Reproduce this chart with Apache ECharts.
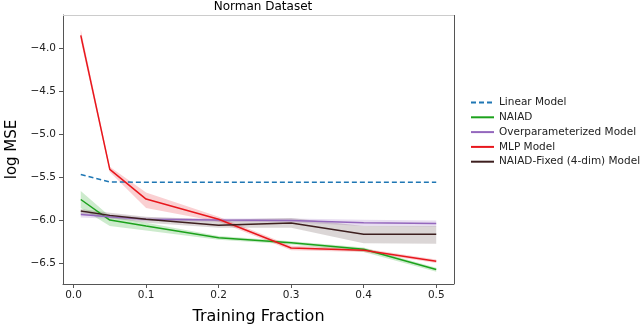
<!DOCTYPE html>
<html>
<head>
<meta charset="utf-8">
<script src="https://cdn.jsdelivr.net/npm/echarts@6/dist/echarts.min.js"></script>
<style>
html,body{margin:0;padding:0;background:#fff;}
#c{width:640px;height:326px;}
</style>
</head>
<body>
<div id="c"></div>
<script>
const fractions = [0.01, 0.05, 0.1, 0.2, 0.3, 0.4, 0.5];
const xTicks = [0.0, 0.1, 0.2, 0.3, 0.4, 0.5];
const yTicks = [-6.5, -6.0, -5.5, -5.0, -4.5, -4.0];

const linearModel = [-5.47, -5.555, -5.56, -5.56, -5.56, -5.56, -5.56];

const naiad      = [-5.76, -6.00, -6.07, -6.205, -6.265, -6.34, -6.575];
const naiadLow   = [-5.86, -6.07, -6.12, -6.23, -6.285, -6.37, -6.60];
const naiadHigh  = [-5.66, -5.955, -6.03, -6.185, -6.245, -6.32, -6.555];

const overparam     = [-5.935, -5.96, -5.99, -6.0, -6.005, -6.03, -6.04];
const overparamLow  = [-5.97, -5.985, -6.01, -6.02, -6.025, -6.07, -6.075];
const overparamHigh = [-5.905, -5.935, -5.97, -5.98, -5.98, -5.995, -6.005];

const mlp     = [-3.85, -5.41, -5.755, -5.99, -6.325, -6.35, -6.48];
const mlpLow  = [-3.91, -5.44, -5.86, -6.02, -6.35, -6.37, -6.50];
const mlpHigh = [-3.78, -5.38, -5.68, -5.96, -6.30, -6.33, -6.46];

const naiadFixed     = [-5.895, -5.945, -5.99, -6.06, -6.035, -6.165, -6.165];
const naiadFixedLow  = [-5.93, -5.975, -6.03, -6.09, -6.09, -6.27, -6.275];
const naiadFixedHigh = [-5.87, -5.915, -5.96, -5.995, -5.975, -6.07, -6.07];

const legendNames = ['Linear Model', 'NAIAD', 'Overparameterized Model', 'MLP Model', 'NAIAD-Fixed (4-dim) Model'];

const FONT = 'DejaVu Sans';
const fmtMinus = v => (v < 0 ? '\u2212' : '') + Math.abs(v).toFixed(1);

function pairs(ys){ return fractions.map((x,i)=>[x, ys[i]]); }

function band(name, low, high, color){
  return {
    type: 'custom',
    name: name + ' band',
    silent: true,
    z: 1,
    data: [0],
    renderItem: function(params, api){
      const pts = [];
      for (let i = 0; i < fractions.length; i++) pts.push(api.coord([fractions[i], high[i]]));
      for (let i = fractions.length - 1; i >= 0; i--) pts.push(api.coord([fractions[i], low[i]]));
      return { type: 'polygon', shape: { points: pts }, style: { fill: color } };
    }
  };
}

function line(name, ys, color, dashed){
  return {
    type: 'line', name: name, data: pairs(ys), symbol: 'none', z: 3,
    lineStyle: { color: color, width: 1.5, type: dashed ? [5, 3] : 'solid' },
    itemStyle: { color: color }
  };
}

const C = {
  linear: '#1f77b4', naiad: '#1ca21c', over: '#9467bd', mlp: '#e8161c', fixed: '#3d1f1f'
};

const chart = echarts.init(document.getElementById('c'), null, {renderer: 'canvas'});
chart.setOption({
  animation: false,
  backgroundColor: '#fff',
  title: {
    text: 'Norman Dataset', left: 258, top: -4, textAlign: 'center',
    textStyle: { fontFamily: FONT, fontSize: 12, fontWeight: 'normal', color: '#000' }
  },
  grid: { left: 63, right: 186, top: 15, bottom: 42, containLabel: false, outerBoundsMode: 'none' },
  xAxis: {
    type: 'value', min: -0.0145, max: 0.5245,
    name: 'Training Fraction', nameLocation: 'middle', nameGap: 25,
    nameTextStyle: { fontFamily: FONT, fontSize: 16, color: '#000' },
    axisLine: { show: true, onZero: false, lineStyle: { color: '#555', width: 1 } },
    axisTick: { show: true, customValues: xTicks, length: 4, lineStyle: { color: '#555' } },
    axisLabel: { customValues: xTicks, formatter: v => v.toFixed(1), fontFamily: FONT, fontSize: 10.5, color: '#222', margin: 6 },
    splitLine: { show: false }
  },
  yAxis: {
    type: 'value', min: -6.744, max: -3.612,
    name: 'log MSE', nameLocation: 'middle', nameGap: 43, nameRotate: 90,
    nameTextStyle: { fontFamily: FONT, fontSize: 15, color: '#000' },
    axisLine: { show: true, onZero: false, lineStyle: { color: '#555', width: 1 } },
    axisTick: { show: true, customValues: yTicks, length: 4, lineStyle: { color: '#555' } },
    axisLabel: { customValues: yTicks, formatter: fmtMinus, fontFamily: FONT, fontSize: 10.5, color: '#222', margin: 7 },
    splitLine: { show: false }
  },
  legend: {
    left: 465, top: 92, orient: 'vertical', itemWidth: 23, itemHeight: 10, itemGap: 3.8,
    itemStyle: { opacity: 0 },
    textStyle: { fontFamily: FONT, fontSize: 10.5, color: '#222', padding: [0,0,0,0] },
    data: legendNames
  },
  graphic: [
    { type: 'line', silent: true, z: 10, shape: { x1: 63, y1: 15.5, x2: 454, y2: 15.5 }, style: { stroke: '#ccc', lineWidth: 1 } },
    { type: 'line', silent: true, z: 10, shape: { x1: 454.5, y1: 15, x2: 454.5, y2: 284 }, style: { stroke: '#555', lineWidth: 1 } }
  ],
  series: [
    band('NAIAD', naiadLow, naiadHigh, 'rgba(28,162,28,0.22)'),
    band('Overparameterized Model', overparamLow, overparamHigh, 'rgba(148,103,189,0.22)'),
    band('MLP Model', mlpLow, mlpHigh, 'rgba(232,22,28,0.2)'),
    band('NAIAD-Fixed (4-dim) Model', naiadFixedLow, naiadFixedHigh, 'rgba(90,70,70,0.22)'),
    line(legendNames[0], linearModel, C.linear, true),
    line(legendNames[1], naiad, C.naiad, false),
    line(legendNames[2], overparam, C.over, false),
    line(legendNames[3], mlp, C.mlp, false),
    line(legendNames[4], naiadFixed, C.fixed, false)
  ]
});
</script>
</body>
</html>
